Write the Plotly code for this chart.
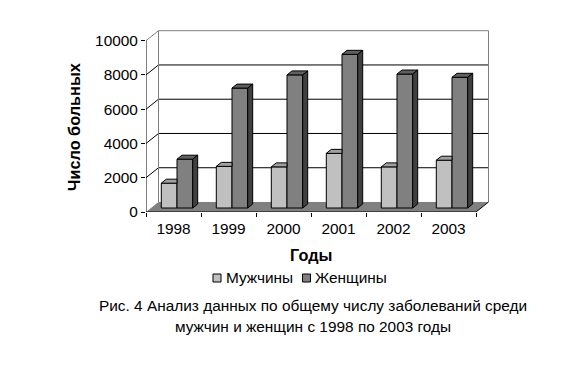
import plotly.graph_objects as go

years = ["1998", "1999", "2000", "2001", "2002", "2003"]
men = [1450, 2430, 2400, 3190, 2400, 2790]
women = [2850, 7000, 7770, 8970, 7820, 7630]
y_ticks = [0, 2000, 4000, 6000, 8000, 10000]
grid_vals = [2000, 4000, 6000, 8000]
men_name = "Мужчины"
women_name = "Женщины"

W, H = 577, 390
L, R, T, B = 146, 490, 28, 212     # plot area in page pixels
PX_CAT = 55.0                      # pixels per category
PX_VAL = 0.01713                   # pixels per value unit
FONT = "Liberation Sans"

def dx(px): return px / PX_CAT
def dy(px): return px / PX_VAL
def paper_x(px): return (px - L) / (R - L)
def paper_y(py): return (B - py) / (B - T)

bar_w = dx(15.7)
men_off = dx(15.3)
wom_off = men_off + bar_w
base = dy(4)
dep_x, dep_y = dx(5), dy(4)
wall_x, wall_y = dx(12.5), dy(10)
n = len(years)

fig = go.Figure()

fig.add_trace(go.Bar(x=[i + men_off + bar_w / 2 for i in range(n)], y=men, base=base, width=bar_w,
                     marker=dict(color="#C0C0C0", line=dict(color="black", width=1)), showlegend=False, name=men_name))
fig.add_trace(go.Bar(x=[i + wom_off + bar_w / 2 for i in range(n)], y=women, base=base, width=bar_w,
                     marker=dict(color="#808080", line=dict(color="black", width=1)), showlegend=False, name=women_name))

def poly(color, xs, ys):
    fig.add_trace(go.Scatter(x=xs, y=ys, mode="lines", fill="toself", fillcolor=color,
                             line=dict(color="black", width=1), showlegend=False, hoverinfo="skip"))

mx, my, tx, ty, sx, sy = [], [], [], [], [], []
for i in range(n):
    x0, x1 = i + men_off, i + men_off + bar_w
    t = base + men[i]
    mx += [x0, x1, x1, x0 + dep_x, x0, None]
    my += [t, t, t + dep_y, t + dep_y, t, None]
    x0, x1 = i + wom_off, i + wom_off + bar_w
    t = base + women[i]
    tx += [x0, x1, x1 + dep_x, x0 + dep_x, x0, None]
    ty += [t, t, t + dep_y, t + dep_y, t, None]
    sx += [x1, x1 + dep_x, x1 + dep_x, x1, x1, None]
    sy += [base, base + dep_y, t + dep_y, t, base, None]
poly("#A0A0A0", mx, my)
poly("#606060", tx, ty)
poly("#404040", sx, sy)

for xs, ys in (([0, 0], [0, 10000]), ([0, n], [0, 0]), ([n, n + wall_x], [0, wall_y])):
    fig.add_trace(go.Scatter(x=xs, y=ys, mode="lines", line=dict(color="black", width=1),
                             cliponaxis=False, showlegend=False, hoverinfo="skip"))

def seg(x0, y0, x1, y1, color):
    return dict(type="line", xref="x", yref="y", x0=x0, y0=y0, x1=x1, y1=y1,
                line=dict(color=color, width=1), layer="below")

shapes = []
for v in grid_vals:
    shapes.append(seg(0, v, wall_x, v + wall_y, "black"))
    shapes.append(seg(wall_x, v + wall_y, n + wall_x, v + wall_y, "black"))
shapes += [
    seg(wall_x, wall_y, wall_x, 10000 + wall_y, "#808080"),
    seg(n + wall_x, wall_y, n + wall_x, 10000 + wall_y, "#808080"),
    seg(wall_x, 10000 + wall_y, n + wall_x, 10000 + wall_y, "#808080"),
    seg(0, 10000, wall_x, 10000 + wall_y, "#808080"),
]
shapes.append(dict(type="path", xref="x", yref="y", layer="below", fillcolor="#808080", line=dict(width=0),
                   path=f"M 0 0 L {n} 0 L {n + wall_x} {wall_y} L {wall_x} {wall_y} Z"))

def label(text, px, py, size=15.4, bold=False, angle=0):
    return dict(text=f"<b>{text}</b>" if bold else text, xref="paper", yref="paper",
                x=paper_x(px), y=paper_y(py), showarrow=False, textangle=angle,
                font=dict(family=FONT, size=size, color="black"), xanchor="center", yanchor="middle")

annotations = [
    label("Число больных", 74, 127, 16.3, True, -90),
    label("Годы", 311, 255, 16.3, True),
    label(men_name, 259.5, 277),
    label(women_name, 351, 277),
    label("Рис. 4 Анализ данных по общему числу заболеваний среди", 313, 305),
    label("мужчин и женщин с 1998 по 2003 годы", 313, 326),
]
for px, col in ((217, "#C0C0C0"), (306.5, "#808080")):
    shapes.append(dict(type="rect", xref="paper", yref="paper", x0=paper_x(px - 4), x1=paper_x(px + 4),
                       y0=paper_y(274), y1=paper_y(282), fillcolor=col, line=dict(color="black", width=1)))

fig.update_layout(
    width=W, height=H, margin=dict(l=L, r=W - R, t=T, b=H - B, pad=0, autoexpand=False),
    paper_bgcolor="white", plot_bgcolor="white", showlegend=False, barmode="overlay",
    shapes=shapes, annotations=annotations,
    xaxis=dict(range=[0, (R - L) / PX_CAT], tickvals=[i + 0.5 for i in range(n)], ticktext=years,
               ticks="", showgrid=False, zeroline=False, showline=False, ticklabelstandoff=6,
               tickfont=dict(family=FONT, size=15.4, color="black"),
               minor=dict(tickvals=list(range(n + 1)), ticks="outside", ticklen=4, tickcolor="black", tickwidth=1, showgrid=False)),
    yaxis=dict(range=[0, (B - T) / PX_VAL], tickvals=y_ticks, ticktext=[str(v) for v in y_ticks],
               ticks="outside", ticklen=4, tickcolor="black", tickwidth=1,
               showgrid=False, zeroline=False, showline=False,
               tickfont=dict(family=FONT, size=15.4, color="black")),
)
fig.write_html("out.html", post_script="document.body.style.margin='0';", config={"displayModeBar": False})
